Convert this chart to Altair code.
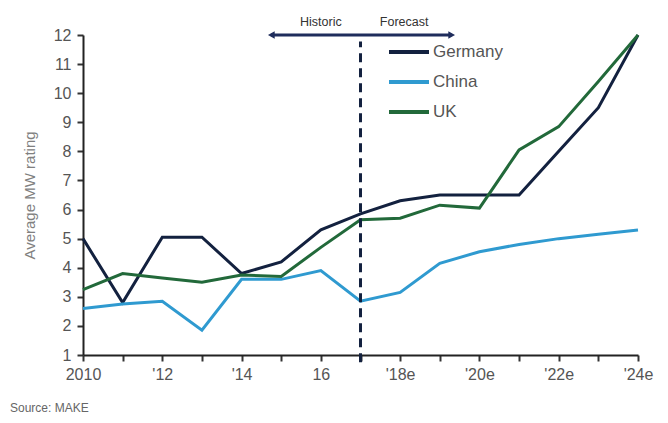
import json
import altair as alt
import pandas as pd

years = list(range(2010, 2025))
germany = [5.0, 2.8, 5.05, 5.05, 3.8, 4.2, 5.3, 5.85, 6.3, 6.5, 6.5, 6.5, 8.0, 9.5, 12.0]
china = [2.6, 2.75, 2.85, 1.85, 3.6, 3.6, 3.9, 2.85, 3.15, 4.15, 4.55, 4.8, 5.0, 5.15, 5.3]
uk = [3.25, 3.8, 3.65, 3.5, 3.75, 3.7, 4.7, 5.65, 5.7, 6.15, 6.05, 8.05, 8.85, 10.4, 12.0]
series_names = ["Germany", "China", "UK"]
series_colors = ["#13213f", "#2f9ad0", "#22693a"]
tick_labels = ["2010", "", "'12", "", "'14", "", "16", "", "'18e", "", "'20e", "", "'22e", "", "'24e"]
y_ticks = list(range(1, 13))
split_year = 2017
arrow_start, arrow_end = 2014.75, 2019.3

rows = []
for name, vals in zip(series_names, [germany, china, uk]):
    for yr, v in zip(years, vals):
        rows.append({"year": yr, "value": v, "series": name})
df = pd.DataFrame(rows)

label_expr = json.dumps(tick_labels) + "[datum.value - " + str(years[0]) + "]"

x_scale = alt.Scale(domain=[years[0], years[-1]], nice=False, zero=False)
y_scale = alt.Scale(domain=[1, 12], nice=False, zero=False)

x_axis = alt.Axis(values=years, labelExpr=label_expr, title=None, grid=False,
                  labelFontSize=16, labelColor="#555555", labelFont="Liberation Sans",
                  tickSize=6, tickColor="#333333", tickWidth=2,
                  domainColor="#222222", domainWidth=2, labelPadding=5,
                  labelFlush=False, labelOverlap=False)
y_axis = alt.Axis(values=y_ticks, tickCount=12, title="Average MW rating", grid=False,
                  labelFontSize=16, labelColor="#555555", labelFont="Liberation Sans",
                  tickSize=6, tickColor="#333333", tickWidth=2,
                  domainColor="#222222", domainWidth=2, labelPadding=6,
                  labelOverlap=False, labelFlush=False,
                  titleFontSize=15, titleColor="#808080", titleFont="Liberation Sans",
                  titleFontWeight="normal", titlePadding=16)

lines = alt.Chart(df).mark_line(strokeWidth=3).encode(
    x=alt.X("year:Q", scale=x_scale, axis=x_axis),
    y=alt.Y("value:Q", scale=y_scale, axis=y_axis),
    color=alt.Color("series:N",
                    scale=alt.Scale(domain=series_names, range=series_colors),
                    sort=series_names,
                    legend=alt.Legend(title=None, orient="none", legendX=304, legendY=-5,
                                      symbolType="stroke", symbolSize=1600, symbolStrokeWidth=4,
                                      labelFontSize=17, labelColor="#555555",
                                      labelFont="Liberation Sans", rowPadding=-12,
                                      labelOffset=2)),
)

vline_df = pd.DataFrame({"x": [split_year], "y": [0.75], "y2": [11.78]})
vline = alt.Chart(vline_df).mark_rule(color="#13213f", strokeWidth=3, strokeDash=[9, 6]).encode(
    x=alt.X("x:Q", scale=x_scale, axis=x_axis), y=alt.Y("y:Q", scale=y_scale, axis=y_axis), y2="y2:Q")

arrow_df = pd.DataFrame({"x": [arrow_start], "x2": [arrow_end], "y": [12.0]})
arrow = alt.Chart(arrow_df).mark_rule(color="#1f2d5c", strokeWidth=3).encode(
    x=alt.X("x:Q", scale=x_scale, axis=x_axis), x2="x2:Q", y=alt.Y("y:Q", scale=y_scale, axis=y_axis))

heads_df = pd.DataFrame({"x": [arrow_start, arrow_end], "y": [12.0, 12.0],
                         "shape": ["triangle-left", "triangle-right"]})
heads = alt.Chart(heads_df).mark_point(filled=True, color="#1f2d5c", size=60, opacity=1).encode(
    x=alt.X("x:Q", scale=x_scale, axis=x_axis), y=alt.Y("y:Q", scale=y_scale, axis=y_axis),
    shape=alt.Shape("shape:N", scale=None))

ann_df = pd.DataFrame({"x": [2016.0, 2018.1], "label": ["Historic", "Forecast"]})
ann = alt.Chart(ann_df).mark_text(fontSize=12.5, color="#333333", font="Liberation Sans",
                                  align="center", baseline="middle").encode(
    x=alt.X("x:Q", scale=x_scale, axis=x_axis), y=alt.value(-13), text="label:N")

src = alt.Chart(pd.DataFrame({"t": ["Source: MAKE"]})).mark_text(
    fontSize=12, color="#666666", font="Liberation Sans", align="left", baseline="middle").encode(
    x=alt.value(-73), y=alt.value(373), text="t:N")

chart = alt.layer(lines, vline, arrow, heads, ann, src).properties(
    width=555, height=320,
    autosize=alt.AutoSizeParams(type="none"),
    padding={"left": 75, "top": 27, "right": 22, "bottom": 60},
).configure_view(stroke=None)

chart.save("out.html", embed_options={"renderer": "svg", "actions": False})
